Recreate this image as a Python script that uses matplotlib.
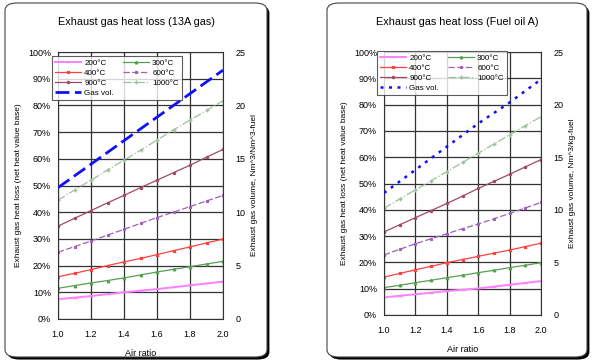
import matplotlib.pyplot as plt
from matplotlib.patches import FancyBboxPatch
from matplotlib.ticker import PercentFormatter

plt.rcParams['font.family'] = ['Liberation Sans', 'DejaVu Sans']

air = [1.0, 1.1, 1.2, 1.3, 1.4, 1.5, 1.6, 1.7, 1.8, 1.9, 2.0]
temps = ["200\u00b0C", "300\u00b0C", "400\u00b0C", "600\u00b0C", "900\u00b0C", "1000\u00b0C"]

# 13A gas, heat loss in %
gas_200 = [7.4, 8.0, 8.6, 9.3, 10.0, 10.6, 11.2, 11.9, 12.6, 13.3, 14.0]
gas_300 = [11.5, 12.5, 13.5, 14.4, 15.4, 16.5, 17.6, 18.6, 19.6, 20.6, 21.6]
gas_400 = [15.8, 17.1, 18.5, 20.0, 21.4, 22.7, 24.1, 25.6, 27.0, 28.5, 29.9]
gas_600 = [25.0, 27.1, 29.2, 31.4, 33.6, 35.8, 38.0, 40.0, 42.1, 44.2, 46.3]
gas_900 = [34.8, 37.7, 40.6, 43.5, 46.3, 49.2, 52.0, 54.8, 57.6, 60.6, 63.5]
gas_1000 = [44.5, 48.3, 52.0, 55.8, 59.5, 63.2, 67.0, 70.8, 74.5, 78.1, 81.7]
gas_vol = [12.3, 13.4, 14.5, 15.6, 16.7, 17.8, 18.9, 20.0, 21.1, 22.2, 23.3]

# Fuel oil A, heat loss in %
oil_200 = [6.7, 7.3, 7.9, 8.5, 9.1, 9.6, 10.1, 10.8, 11.5, 12.2, 12.9]
oil_300 = [10.4, 11.3, 12.3, 13.2, 14.2, 15.1, 16.1, 17.0, 18.0, 18.9, 19.9]
oil_400 = [14.4, 15.8, 17.2, 18.5, 19.9, 21.1, 22.3, 23.5, 24.7, 26.0, 27.3]
oil_600 = [22.8, 25.0, 27.1, 29.0, 30.9, 32.8, 34.6, 36.6, 38.6, 40.7, 42.8]
oil_900 = [31.6, 34.3, 37.0, 39.7, 42.4, 45.2, 48.1, 50.8, 53.5, 56.3, 59.1]
oil_1000 = [40.6, 44.1, 47.6, 51.0, 54.5, 58.0, 61.5, 65.0, 68.5, 72.0, 75.4]
oil_vol = [11.6, 12.7, 13.8, 14.9, 16.0, 17.1, 18.2, 19.2, 20.2, 21.3, 22.4]

styles = [
    dict(color="#ff80ff", ls="-", lw=1.4, marker="_", ms=3),
    dict(color="#55a050", ls="-", lw=0.9, marker="^", ms=1.8),
    dict(color="#ff4040", ls="-", lw=0.9, marker="x", ms=2),
    dict(color="#a060b8", ls=(0, (5, 2)), lw=0.9, marker="*", ms=2),
    dict(color="#a04868", ls="-", lw=0.9, marker="o", ms=1.5),
    dict(color="#9cbf9c", ls="-.", lw=0.9, marker="+", ms=2.5),
]

W, H = 600, 364
fig = plt.figure(figsize=(6, 3.64), dpi=100)


def px(x0, y0, x1, y1):
    return [x0 / W, 1 - y1 / H, (x1 - x0) / W, (y1 - y0) / H]


def panel_box(x0, y0, x1, y1):
    r = 0.02
    sh = FancyBboxPatch((x0 / W + 0.004, 1 - y1 / H - 0.007), (x1 - x0) / W, (y1 - y0) / H,
                        boxstyle="round,pad=0,rounding_size=%f" % r, transform=fig.transFigure,
                        facecolor="black", edgecolor="none", zorder=0)
    bx = FancyBboxPatch((x0 / W, 1 - y1 / H), (x1 - x0) / W, (y1 - y0) / H,
                        boxstyle="round,pad=0,rounding_size=%f" % r, transform=fig.transFigure,
                        facecolor="white", edgecolor="#444444", lw=0.8, zorder=1)
    fig.patches.extend([sh, bx])


def draw(rect, title, tx, series, vol, vol_style, vlabel, leg_rect):
    ax = fig.add_axes(rect)
    ax.set_zorder(3)
    lines = []
    for vals, lab, st in zip(series, temps, styles):
        ln, = ax.plot(air, vals, label=lab, **st)
        lines.append(ln)
    ax.set_xlim(1.0, 2.0)
    ax.set_ylim(0, 100)
    ax.set_xticks([1.0, 1.2, 1.4, 1.6, 1.8, 2.0])
    ax.set_yticks(range(0, 101, 10))
    ax.yaxis.set_major_formatter(PercentFormatter(decimals=0))
    ax.grid(True, color="#333333", lw=0.9)
    ax.tick_params(labelsize=6.5, length=0, pad=5)
    ax.tick_params(axis="x", pad=8)
    for s in ax.spines.values():
        s.set_color("#333333")
    ax.set_xlabel("Air ratio", fontsize=6.5, labelpad=7)
    ax.set_ylabel("Exhaust gas heat loss (net heat value base)", fontsize=6.0, labelpad=4)
    ax2 = ax.twinx()
    vl, = ax2.plot(air, vol, label="Gas vol.", **vol_style)
    ax2.set_ylim(0, 25)
    ax2.set_yticks([0, 5, 10, 15, 20, 25])
    ax2.tick_params(labelsize=6.5, length=0, pad=9)
    for s in ax2.spines.values():
        s.set_visible(False)
    ax2.set_ylabel(vlabel, fontsize=6.0, labelpad=4)
    handles = [lines[0], lines[2], lines[4], vl, lines[1], lines[3], lines[5]]
    leg = ax2.legend(handles, [h.get_label() for h in handles], ncol=2, fontsize=5.8,
                     loc="upper left", bbox_to_anchor=leg_rect, bbox_transform=fig.transFigure,
                     mode="expand", frameon=True, fancybox=False, borderaxespad=0,
                     handlelength=3.2, handletextpad=0.4, labelspacing=0.3, columnspacing=1.0,
                     borderpad=0.4)
    leg.get_frame().set_edgecolor("#333333")
    leg.get_frame().set_linewidth(0.8)
    fig.text(tx / W, 1 - 22 / H, title, ha="center", va="center", fontsize=7.8)


panel_box(5, 3, 267, 357)
panel_box(327, 3, 587, 357)

draw(px(58, 52, 223, 319), "Exhaust gas heat loss (13A gas)", 136,
     [gas_200, gas_300, gas_400, gas_600, gas_900, gas_1000], gas_vol,
     dict(color="#1010ff", ls=(0, (5, 2)), lw=2.0),
     "Exhaust gas volume, Nm^3/Nm^3-fuel",
     px(52, 56, 182, 100))

draw(px(384, 52, 541, 315), "Exhaust gas heat loss (Fuel oil A)", 457,
     [oil_200, oil_300, oil_400, oil_600, oil_900, oil_1000], oil_vol,
     dict(color="#1010ff", ls=(0, (1.2, 2.2)), lw=1.8),
     "Exhaust gas volume, Nm^3/kg-fuel",
     px(377, 51, 507, 94))

fig.savefig("out.png", dpi=100)
